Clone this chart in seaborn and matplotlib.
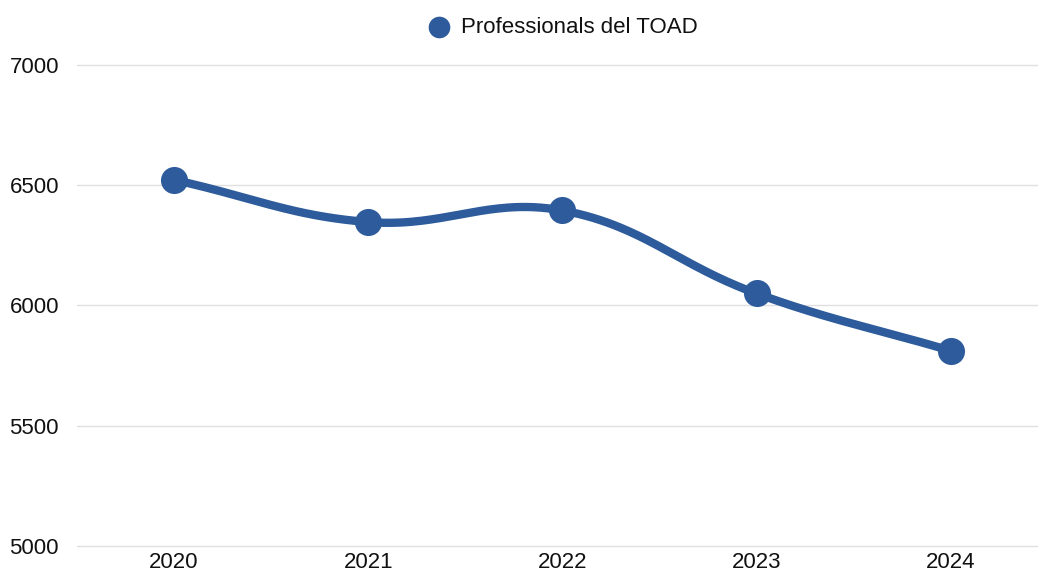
import numpy as np
import pandas as pd
import matplotlib
matplotlib.use('Agg')
import matplotlib.pyplot as plt
import seaborn as sns

# ------------------------------------------------------------
# data
# ------------------------------------------------------------
years = ['2020', '2021', '2022', '2023', '2024']
professionals = [6522, 6347, 6395, 6050, 5812]
series_name = 'Professionals del TOAD'

y_ticks = [5000, 5500, 6000, 6500, 7000]

color = '#2d5b9b'

sns.set_theme(style='white')
plt.rcParams['font.family'] = ['Liberation Sans', 'DejaVu Sans']

fig = plt.figure(figsize=(10.38, 5.75), dpi=100)
ax = fig.add_axes([0.0742, 0.0504, 0.9258, 0.8366])

x = np.arange(len(years), dtype=float)
y = np.array(professionals, dtype=float)

# smooth curve like chart.js (cubic bezier, tension 0.4), computed in pixel space
px_x, px_y = 194.0, 0.2405
P = np.column_stack([x * px_x, y * px_y])
t = 0.4
cps = []
for i in range(len(P)):
    prev = P[max(i - 1, 0)]
    nxt = P[min(i + 1, len(P) - 1)]
    d01 = np.hypot(*(P[i] - prev))
    d12 = np.hypot(*(nxt - P[i]))
    s = d01 + d12 if d01 + d12 > 0 else 1.0
    fa, fb = t * d01 / s, t * d12 / s
    cps.append((P[i] - fa * (nxt - prev), P[i] + fb * (nxt - prev)))

sx, sy = [], []
u = np.linspace(0, 1, 60)[:, None]
for i in range(len(P) - 1):
    p0, p1, p2, p3 = P[i], cps[i][1], cps[i + 1][0], P[i + 1]
    b = (1 - u) ** 3 * p0 + 3 * (1 - u) ** 2 * u * p1 + 3 * (1 - u) * u ** 2 * p2 + u ** 3 * p3
    sx.extend(b[:, 0] / px_x)
    sy.extend(b[:, 1] / px_y)

curve = pd.DataFrame({'x': sx, 'y': sy})
pts = pd.DataFrame({'x': x, 'y': y})

sns.lineplot(data=curve, x='x', y='y', sort=False, color=color, lw=6,
             solid_capstyle='round', ax=ax, legend=False, zorder=2)
sns.scatterplot(data=pts, x='x', y='y', color=color, s=380, edgecolor=color,
                linewidth=0, ax=ax, label=series_name, zorder=3)

ax.set_xlim(-0.5, 4.45)
ax.set_ylim(5000, 7000)
ax.set_xticks(x)
ax.set_xticklabels(years)
ax.set_yticks(y_ticks)
ax.set_xlabel('')
ax.set_ylabel('')
ax.tick_params(axis='y', length=0, pad=13, labelsize=16, colors='#111111')
ax.tick_params(axis='x', length=0, pad=4, labelsize=16, colors='#111111')

ax.grid(axis='y', color='#e0e0e0', lw=1)
ax.grid(axis='x', visible=False)
for gl in ax.yaxis.get_gridlines():
    gl.set_clip_on(False)
for sp in ax.spines.values():
    sp.set_visible(False)

leg = ax.legend(loc='lower center', bbox_to_anchor=(0.5, 1.0), frameon=False,
                fontsize=16, handletextpad=0.0, markerscale=0.8,
                borderaxespad=0.8)
for txt in leg.get_texts():
    txt.set_color('#111111')

fig.savefig('out.png', dpi=100, facecolor='white')
